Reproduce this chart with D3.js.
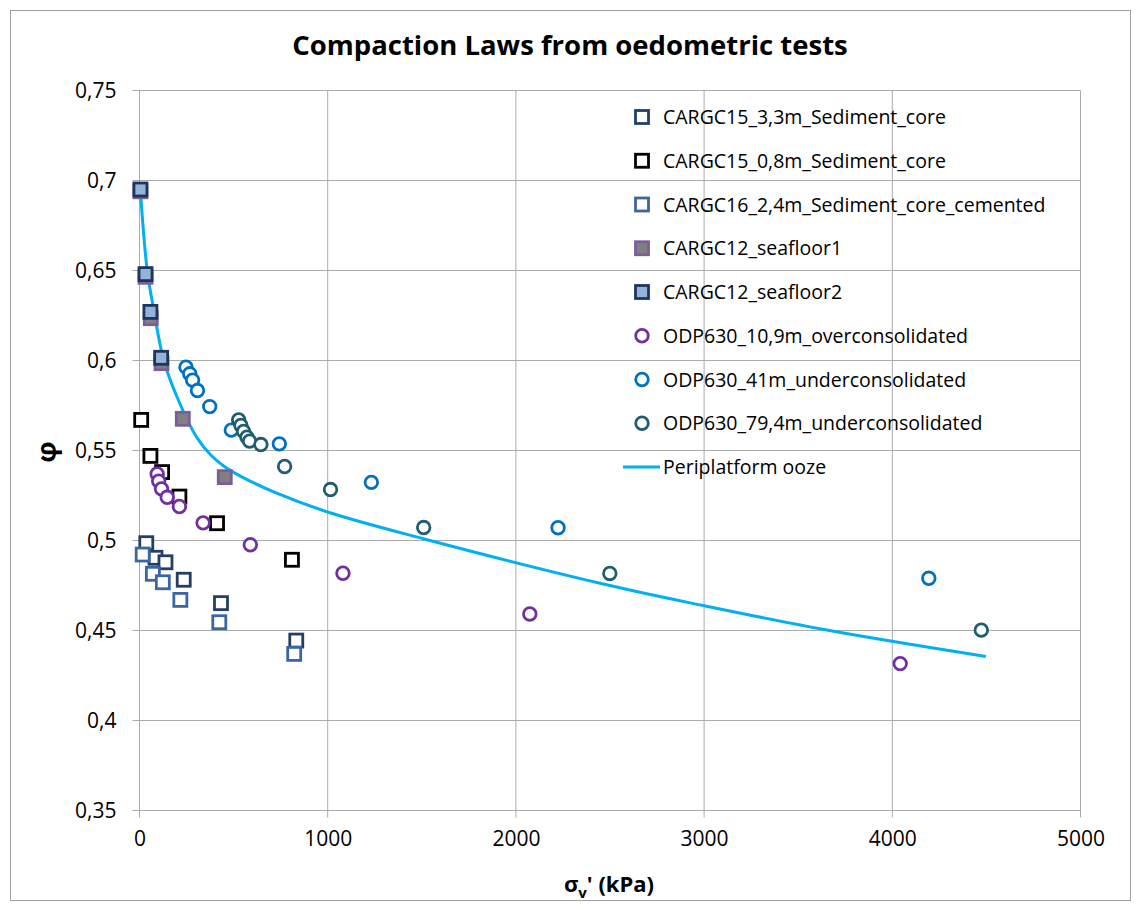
<!DOCTYPE html>
<html>
<head>
<meta charset="utf-8">
<script src="https://cdn.jsdelivr.net/npm/d3@7"></script>
<style>
  html, body { margin: 0; padding: 0; background: #fff; }
  svg { display: block; }
  text { font-family: "Open Sans", "Noto Sans", sans-serif; fill: #000; }
</style>
</head>
<body>
<svg id="chart" width="1140" height="910"></svg>
<script>
// ---------- data ----------
const title = "Compaction Laws from oedometric tests";
const xTicks = [0, 1000, 2000, 3000, 4000, 5000];
const yTicks = [0.35, 0.4, 0.45, 0.5, 0.55, 0.6, 0.65, 0.7, 0.75];
const yTickLabels = ["0,35", "0,4", "0,45", "0,5", "0,55", "0,6", "0,65", "0,7", "0,75"];

const cargc15_33_x = [36, 85, 138, 235, 433, 833];
const cargc15_33_y = [0.4985, 0.4904, 0.4879, 0.4782, 0.4652, 0.4444];

const cargc15_08_x = [9, 58, 120, 212, 412, 810];
const cargc15_08_y = [0.567, 0.547, 0.538, 0.5244, 0.5096, 0.4893];

const cargc16_x = [17, 71, 124, 217, 424, 822];
const cargc16_y = [0.4922, 0.4815, 0.4768, 0.467, 0.4546, 0.437];

const seafloor1_x = [5, 32, 60, 117, 230, 453];
const seafloor1_y = [0.694, 0.6465, 0.6235, 0.5985, 0.5676, 0.5352];

const seafloor2_x = [5, 32, 58, 115];
const seafloor2_y = [0.695, 0.648, 0.627, 0.6015];

const odp109_x = [94, 102, 117, 147, 212, 338, 589, 1081, 2074, 4042];
const odp109_y = [0.537, 0.533, 0.5287, 0.524, 0.5189, 0.5098, 0.4976, 0.4818, 0.4592, 0.4316];

const odp41_x = [247, 267, 282, 308, 373, 488, 743, 1232, 2224, 4194];
const odp41_y = [0.5963, 0.5926, 0.5891, 0.5833, 0.5744, 0.5613, 0.5537, 0.5323, 0.5071, 0.479];

const odp794_x = [527, 539, 553, 571, 585, 645, 771, 1015, 1510, 2499, 4473];
const odp794_y = [0.567, 0.5639, 0.5606, 0.5574, 0.5552, 0.5533, 0.5411, 0.5283, 0.5072, 0.4817, 0.4502];

const ooze_x = [5, 41, 76, 129, 200, 306, 380, 453, 536, 713, 1004, 1508, 2499, 2994, 3666, 4497];
const ooze_y = [0.694, 0.650, 0.628, 0.600, 0.5796, 0.557, 0.5474, 0.541, 0.5358, 0.527, 0.5157, 0.501, 0.475, 0.4639, 0.450, 0.4356];

const seriesNames = [
  "CARGC15_3,3m_Sediment_core",
  "CARGC15_0,8m_Sediment_core",
  "CARGC16_2,4m_Sediment_core_cemented",
  "CARGC12_seafloor1",
  "CARGC12_seafloor2",
  "ODP630_10,9m_overconsolidated",
  "ODP630_41m_underconsolidated",
  "ODP630_79,4m_underconsolidated",
  "Periplatform ooze"
];

// ---------- styles ----------
const series = [
  { name: seriesNames[0], xs: cargc15_33_x, ys: cargc15_33_y, shape: "square", stroke: "#243F66", fill: "#ffffff" },
  { name: seriesNames[1], xs: cargc15_08_x, ys: cargc15_08_y, shape: "square", stroke: "#000000", fill: "#ffffff" },
  { name: seriesNames[2], xs: cargc16_x, ys: cargc16_y, shape: "square", stroke: "#3B67A0", fill: "#ffffff" },
  { name: seriesNames[3], xs: seafloor1_x, ys: seafloor1_y, shape: "square", stroke: "#7A5E9C", fill: "#808080" },
  { name: seriesNames[4], xs: seafloor2_x, ys: seafloor2_y, shape: "square", stroke: "#1C3661", fill: "#95B3D7" },
  { name: seriesNames[5], xs: odp109_x, ys: odp109_y, shape: "circle", stroke: "#7030A0", fill: "#ffffff" },
  { name: seriesNames[6], xs: odp41_x, ys: odp41_y, shape: "circle", stroke: "#0070C0", fill: "#ffffff" },
  { name: seriesNames[7], xs: odp794_x, ys: odp794_y, shape: "circle", stroke: "#215E6C", fill: "#ffffff" }
];
const lineColor = "#00B0F0";
const gridColor = "#ABABAB";

const svg = d3.select("#chart");

// chart border
svg.append("rect").attr("x", 10.5).attr("y", 10.5).attr("width", 1120).attr("height", 890)
  .attr("fill", "#fff").attr("stroke", "#A0A0A0").attr("stroke-width", 1);

const x = d3.scaleLinear().domain([0, 5000]).range([139.5, 1080.5]);
const y = d3.scaleLinear().domain([0.35, 0.75]).range([810.5, 90.5]);

// grid
const g = svg.append("g");
g.selectAll("line.hg").data(yTicks).enter().append("line")
  .attr("x1", x(0) - 7).attr("x2", x(5000))
  .attr("y1", d => y(d)).attr("y2", d => y(d))
  .attr("stroke", gridColor).attr("stroke-width", 1);
g.selectAll("line.vg").data(xTicks).enter().append("line")
  .attr("x1", d => x(d)).attr("x2", d => x(d))
  .attr("y1", y(0.75)).attr("y2", y(0.35) + 7)
  .attr("stroke", gridColor).attr("stroke-width", 1);

// axes labels via d3 axes
const yAxis = d3.axisLeft(y).tickValues(yTicks).tickFormat((d, i) => yTickLabels[i]).tickSize(0).tickPadding(23);
const xAxis = d3.axisBottom(x).tickValues(xTicks).tickFormat(d => String(d)).tickSize(0).tickPadding(21);
const ya = svg.append("g").attr("transform", `translate(${x(0)},0)`).call(yAxis);
const xa = svg.append("g").attr("transform", `translate(0,${y(0.35)})`).call(xAxis);
[ya, xa].forEach(a => {
  a.select(".domain").remove();
  a.selectAll("text").style("font-family", "'Open Sans', sans-serif").style("font-size", "21px").attr("fill", "#000");
});

// curve
const lineGen = d3.line().x(d => x(d[0])).y(d => y(d[1])).curve(d3.curveCatmullRom.alpha(0.5));
svg.append("path").datum(ooze_x.map((v, i) => [v, ooze_y[i]]))
  .attr("d", lineGen).attr("fill", "none").attr("stroke", lineColor).attr("stroke-width", 3);

// markers
const sq = 13, rr = 6.3;
function drawMarker(sel, s, cx, cy) {
  if (s.shape === "square") {
    sel.append("rect").attr("x", cx - sq / 2).attr("y", cy - sq / 2).attr("width", sq).attr("height", sq)
      .attr("fill", s.fill).attr("stroke", s.stroke).attr("stroke-width", 2.8);
  } else {
    sel.append("circle").attr("cx", cx).attr("cy", cy).attr("r", rr)
      .attr("fill", s.fill).attr("stroke", s.stroke).attr("stroke-width", 2.8);
  }
}
series.forEach(s => {
  const sg = svg.append("g");
  s.xs.forEach((v, i) => drawMarker(sg, s, x(v), y(s.ys[i])));
});

// title
svg.append("text").attr("x", 570).attr("y", 55).attr("text-anchor", "middle")
  .style("font-size", "27.5px").style("font-weight", "bold").text(title);

// axis titles
const xt = svg.append("text").attr("x", 609).attr("y", 892).attr("text-anchor", "middle")
  .style("font-size", "22px").style("font-weight", "bold");
xt.append("tspan").text("σ");
xt.append("tspan").text("v").attr("dy", 6).style("font-size", "15px");
xt.append("tspan").text("' (kPa)").attr("dy", -6);

svg.append("text").attr("transform", "translate(56,452) rotate(-90)").attr("text-anchor", "middle")
  .style("font-size", "27px").style("font-weight", "bold").text("φ");

// legend
const lg = svg.append("g");
const legY0 = 117, legDy = 43.75;
seriesNames.forEach((name, i) => {
  const ly = legY0 + i * legDy;
  if (i < series.length) {
    drawMarker(lg, series[i], 642, ly);
  } else {
    lg.append("line").attr("x1", 623).attr("x2", 660).attr("y1", ly).attr("y2", ly)
      .attr("stroke", lineColor).attr("stroke-width", 3);
  }
  lg.append("text").attr("x", 663).attr("y", ly + 7).style("font-size", "19.5px").text(name);
});
</script>
</body>
</html>
